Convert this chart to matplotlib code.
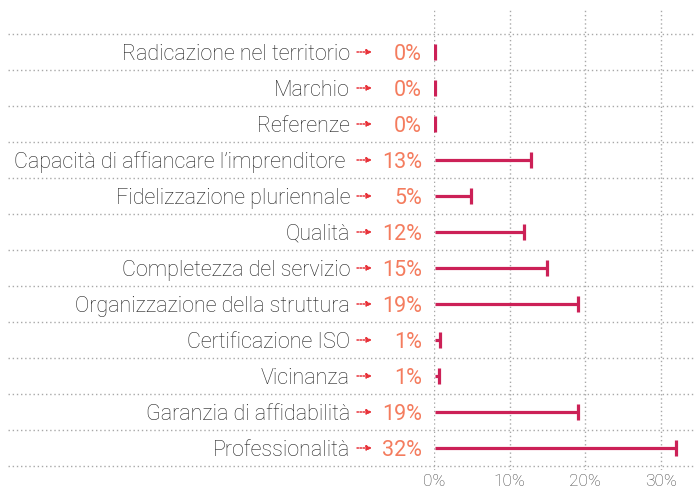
import matplotlib
matplotlib.use("Agg")
import matplotlib.pyplot as plt
from matplotlib.transforms import blended_transform_factory

categories = ["Radicazione nel territorio", "Marchio", "Referenze",
              "Capacità di affiancare l\u2019imprenditore ", "Fidelizzazione pluriennale",
              "Qualità", "Completezza del servizio", "Organizzazione della struttura",
              "Certificazione ISO", "Vicinanza", "Garanzia di affidabilità", "Professionalità"]
values = [0, 0, 0, 12.7, 4.8, 11.8, 14.8, 18.9, 0.7, 0.5, 18.9, 31.9]
pct_labels = ["0%", "0%", "0%", "13%", "5%", "12%", "15%", "19%", "1%", "1%", "19%", "32%"]
xticks = [0, 10, 20, 30]
xticklabels = ["0%", "10%", "20%", "30%"]

W, H = 695, 495
fig = plt.figure(figsize=(W / 100, H / 100), dpi=100)
left, right, top, bottom = 434, 695, 8, 470
ax = fig.add_axes([left / W, 1 - bottom / H, (right - left) / W, (bottom - top) / H])

px_per_unit = 75.6 / 10
ax.set_xlim(0, (right - left) / px_per_unit)
y_top = (top - 52) / 36
y_bot = (bottom - 52) / 36
ax.set_ylim(y_bot, y_top)

for s in ax.spines.values():
    s.set_visible(False)
ax.set_yticks([])
ax.set_xticks(xticks)
ax.set_xticklabels(xticklabels, fontfamily="Roboto", fontweight="light", fontsize=12.5, color="#444444")
ax.tick_params(axis="x", length=0, pad=3)

grid_col = "#a8a8a8"
gls = (0, (1, 2))
for xv in xticks:
    ax.axvline(xv, color=grid_col, lw=1.0, ls=gls, zorder=1)

trans = blended_transform_factory(ax.transAxes, ax.transData)
x_start = (8 - left) / (right - left)
for i in range(len(categories) + 1):
    ax.plot([x_start, 1], [i - 0.5, i - 0.5], transform=trans, clip_on=False,
            color=grid_col, lw=1.0, ls=gls, zorder=1)

bar_col = "#cc2157"
for i, v in enumerate(values):
    ax.plot([0.1, v + 0.1], [i, i], color=bar_col, lw=2.3, solid_capstyle="butt", zorder=3)
    ax.plot([v + 0.1], [i], marker="|", ms=12, mew=2.3, color=bar_col, zorder=3)

def xa(px):
    return (px - left) / (right - left)

dy = 0.06
for i, (c, p) in enumerate(zip(categories, pct_labels)):
    ax.text(xa(350), i + dy, c, transform=trans, ha="right", va="center",
            fontfamily="Roboto", fontweight="light", fontsize=15.5, color="#222222", clip_on=False)
    ax.annotate("", xy=(xa(372), i), xytext=(xa(357), i), xycoords=trans, textcoords=trans,
                arrowprops=dict(arrowstyle="-|>,head_length=0.3,head_width=0.15", color="#e8333a",
                                lw=1.1, ls=(0, (1, 1)), shrinkA=0, shrinkB=0), annotation_clip=False)
    ax.text(xa(422), i + dy, p, transform=trans, ha="right", va="center",
            fontfamily="Roboto", fontweight="normal", fontsize=15.5, color="#f47c5e", clip_on=False)

fig.savefig("out.png", dpi=100)
